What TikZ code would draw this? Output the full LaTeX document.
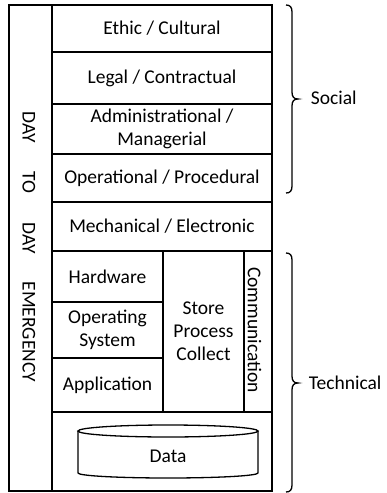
\documentclass[tikz,border=0pt]{standalone}
\usepackage{fontspec}
\setmainfont{Carlito}
\begin{document}
\begin{tikzpicture}[x=1pt,y=-1pt,
  font=\fontsize{19.5}{23}\selectfont,
  line width=1.7pt,
  cell/.style={draw, line width=1.7pt, inner sep=0pt, align=center},
  vtext/.style={rotate=-90, inner sep=0pt},
  side/.style={anchor=west, inner sep=0pt}]
\useasboundingbox (0,0) rectangle (387,493);
% left column
\node[cell, minimum width=43pt, minimum height=486pt] (col) at (30.5,248) {};
\node[vtext] (w1) at (29,127) {DAY};
\node[vtext] (w2) at (29,182.5) {TO};
\node[vtext] (w3) at (29,238) {DAY};
\node[vtext] (w4) at (29,332) {EMERGENCY};
% layer cells
\node[cell, minimum width=220pt, minimum height=47pt] (ethic) at (162,28.5) {Ethic / Cultural};
\node[cell, minimum width=220pt, minimum height=52pt] (legal) at (162,78) {Legal / Contractual};
\node[cell, minimum width=220pt, minimum height=50pt] (admin) at (162,129) {Administrational /\\Managerial};
\node[cell, minimum width=220pt, minimum height=48pt] (oper) at (162,178) {Operational / Procedural};
\node[cell, minimum width=220pt, minimum height=49pt] (mech) at (162,226.5) {Mechanical / Electronic};
\node[cell, minimum width=111pt, minimum height=51pt] (hw) at (107.5,276.5) {Hardware};
\node[cell, minimum width=111pt, minimum height=56pt] (os) at (107.5,330) {Operating\\System};
\node[cell, minimum width=111pt, minimum height=54pt] (app) at (107.5,385) {Application};
\node[cell, minimum width=81pt, minimum height=161pt] (store) at (203.5,331.5) {Store\\Process\\Collect};
\node[cell, minimum width=28pt, minimum height=161pt] (comm) at (258,331.5) {};
\node[vtext] (commtext) at (254.5,330) {Communication};
\node[cell, minimum width=220pt, minimum height=79pt] (datacell) at (162,451.5) {};
% data cylinder
\draw[line width=1.3pt] (168,431) ellipse [x radius=90pt, y radius=6pt];
\draw[line width=1.3pt] (78,431) -- (78,473) arc[start angle=180, end angle=360, x radius=90pt, y radius=5pt] -- (258,431);
\node (data) at (168,456) {Data};
% braces
\draw[line width=1.3pt] (286,5) .. controls (290,5) and (292,7) .. (292,12) -- (292,92)
  .. controls (292,97) and (294,99) .. (298,99)
  .. controls (294,99) and (292,101) .. (292,106) -- (292,186)
  .. controls (292,191) and (290,193) .. (286,193);
\draw[line width=1.3pt] (286,253) .. controls (290,253) and (292,255) .. (292,260) -- (292,376)
  .. controls (292,381) and (294,383) .. (298,383)
  .. controls (294,383) and (292,385) .. (292,390) -- (292,485)
  .. controls (292,490) and (290,492) .. (286,492);
\node[side] (social) at (310,98) {Social};
\node[side] (technical) at (308,383) {Technical};
\end{tikzpicture}
\end{document}
